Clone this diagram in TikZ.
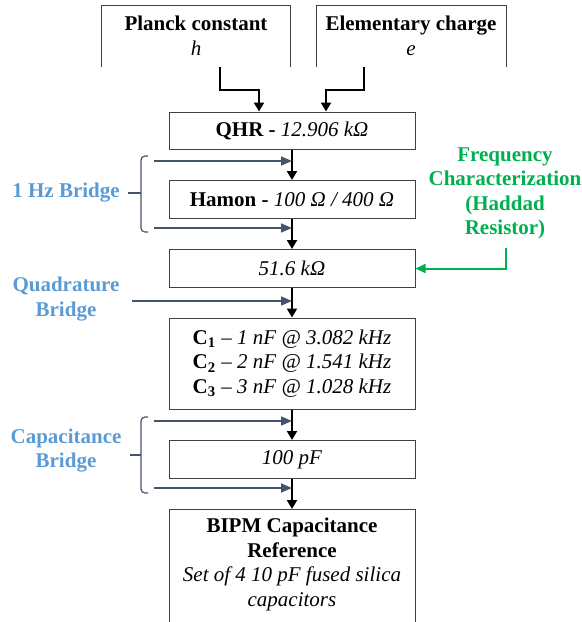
\documentclass[tikz,border=0pt]{standalone}
\usepackage{fontspec}
\setmainfont{Liberation Serif}
\usetikzlibrary{arrows.meta, positioning, calc}
\definecolor{bridgeblue}{HTML}{5B9BD5}
\definecolor{freqgreen}{HTML}{00B050}
\definecolor{slate}{HTML}{44546A}

\begin{document}
\begin{tikzpicture}[x=0.5pt, y=-0.5pt,
    every node/.style={font=\fontsize{10.5}{12.3}\selectfont},
    box/.style={draw=black!75, line width=0.5pt, minimum width=123pt, minimum height=19pt, inner sep=0pt, align=center},
    frame/.style={draw=black!75, line width=0.5pt},
    flow/.style={-{Triangle[width=5pt,length=4.5pt]}, line width=1pt},
    feed/.style={slate, line width=0.8pt, -{Triangle[width=4.5pt,length=5.5pt]}},
    brace/.style={slate, line width=0.6pt, rounded corners=2pt},
    bridgelbl/.style={font=\fontsize{10.5}{12.3}\selectfont\bfseries, text=bridgeblue, align=center}]
    \useasboundingbox (0,0) rectangle (582,622);

    % Constants
    \node[align=center] (planck) at (196,36) {\textbf{Planck constant}\\\textit{h}};
    \node[align=center] (charge) at (411,36) {\textbf{Elementary charge}\\\textit{e}};
    \draw[frame] (101,67) |- (290,5) -- (290,67);
    \draw[frame] (316,67) |- (506,5) -- (506,67);
    \coordinate (hout) at (220,67);
    \coordinate (eout) at (364,67);

    % Chain
    \node[box, minimum height=18.5pt] (qhr) at (292,130.5) {\textbf{QHR -} \textit{12.906 kΩ}};
    \node[box] (hamon) at (292,199.5) {\textbf{Hamon -} \textit{100 Ω / 400 Ω}};
    \node[box] (r516) at (292,268.5) {\textit{51.6 kΩ}};
    \node[box, minimum height=45.5pt] (caps) at (292,363.5)
        {\textbf{C\textsubscript{1}} – \textit{1 nF @ 3.082 kHz}\\
         \textbf{C\textsubscript{2}} – \textit{2 nF @ 1.541 kHz}\\
         \textbf{C\textsubscript{3}} – \textit{3 nF @ 1.028 kHz}};
    \node[box] (c100) at (292,459.5) {\textit{100 pF}};
    \node[align=center] (bipm) at (292,564.5)
        {\textbf{BIPM Capacitance}\\\textbf{Reference}\\\textit{Set of 4 10 pF fused silica}\\\textit{capacitors}};
    \draw[frame] (169,630) |- (415,509) -- (415,630);
    \coordinate (bipmtop) at (292,509);

    \draw[flow] (hout) |- ($(qhr.north)+(-33,-22)$) -- ($(qhr.north)+(-33,0)$);
    \draw[flow] (eout) |- ($(qhr.north)+(34,-22)$) -- ($(qhr.north)+(34,0)$);
    \draw[flow] (qhr) -- (hamon);
    \draw[flow] (hamon) -- (r516);
    \draw[flow] (r516) -- (caps);
    \draw[flow] (caps) -- (c100);
    \draw[flow] (c100.south) -- (bipmtop);

    % Bridges
    \node[bridgelbl] (hz) at (66,193) {1 Hz Bridge};
    \draw[brace] (148,156) -- (141,156) -- (141,232) -- (148,232);
    \draw[slate, line width=0.6pt] (141,193) -- (128,193);
    \coordinate (hza) at (154,161);
    \coordinate (hzb) at (154,228);
    \draw[feed] (hza) -- (hza -| qhr.south);
    \draw[feed] (hzb) -- (hzb -| qhr.south);

    \node[bridgelbl] (quad) at (66,299) {Quadrature\\Bridge};
    \coordinate (qa) at (132,301);
    \draw[feed] (qa) -- (qa -| qhr.south);

    \node[bridgelbl] (capbr) at (66,450.5) {Capacitance\\Bridge};
    \draw[brace] (148,417) -- (141,417) -- (141,493) -- (148,493);
    \draw[slate, line width=0.6pt] (141,455) -- (130,455);
    \coordinate (ca) at (154,421);
    \coordinate (cb) at (154,488);
    \draw[feed] (ca) -- (ca -| qhr.south);
    \draw[feed] (cb) -- (cb -| qhr.south);

    % Haddad resistor
    \node[font=\fontsize{10.5}{12.2}\selectfont\bfseries, text=freqgreen, align=center] (freq) at (505,193.5)
        {Frequency\\Characterization\\(Haddad\\Resistor)};
    \coordinate (fout) at (506,248);
    \draw[freqgreen, line width=1pt, -{Triangle[width=4.5pt,length=5pt]}] (fout) |- (r516.east);
\end{tikzpicture}
\end{document}
